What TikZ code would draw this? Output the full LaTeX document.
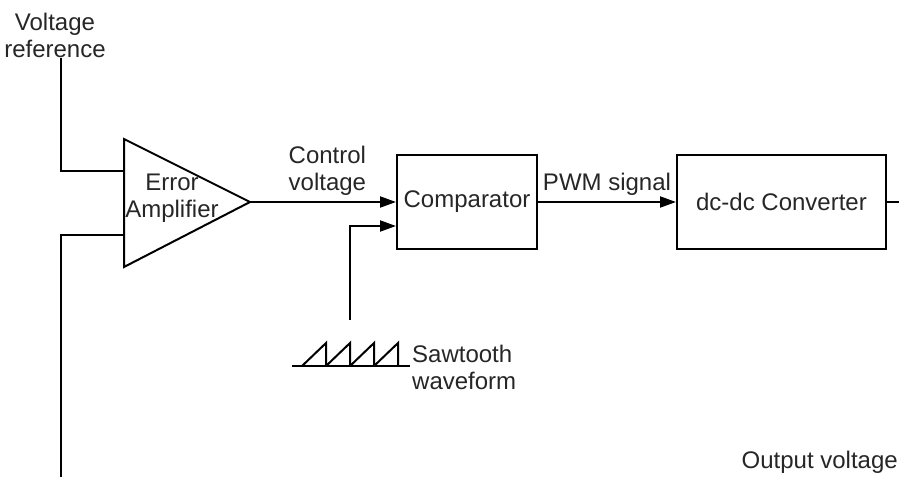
\documentclass[tikz,border=0pt]{standalone}
\usepackage{fontspec}
\setmainfont{Liberation Sans}
\usetikzlibrary{arrows.meta, positioning}

\begin{document}
\begin{tikzpicture}[x=1pt, y=-1pt,
  every node/.style={font=\fontsize{24}{27}\selectfont, text=black!85, inner sep=0pt},
  st/.style={draw, line width=2pt, minimum height=94pt},
  ln/.style={line width=2pt},
  a/.style={-{Triangle[length=16pt,width=11pt]}, line width=2pt},
  al/.style={align=center}]
\useasboundingbox (0,0) rectangle (899,477);
\clip (0,0) rectangle (899,477);
% error amplifier
\node[al] (vref) at (55,35) {Voltage\\reference};
\coordinate (ampt) at (124,139);
\coordinate (ampb) at (124,267);
\coordinate (ampo) at (250,202);
\coordinate (ampp) at (124,171);
\coordinate (ampn) at (124,235);
\draw[ln, line join=miter] (ampt) -- (ampo) -- (ampb) -- cycle;
\node[al] (amp) at (172,198) {Error\\Amplifier};
\draw[ln] ([xshift=6pt]vref.south) |- (ampp);
\coordinate (fb) at (61,477);
\draw[ln] (fb) |- (ampn);
% blocks
\node[st, minimum width=140pt] (cmp) at (467,202) {Comparator};
\node[st, minimum width=209pt] (conv) at (781.5,202) {dc-dc Converter};
\draw[a] (ampo) -- node[al, above=6pt, pos=0.53]{Control\\voltage} (cmp.west);
\draw[a] (cmp) -- node[above=6pt]{PWM signal} (conv);
\coordinate (out) at (899,202);
\draw[ln] (conv) -- (out);
% sawtooth
\coordinate (saw) at (350,320);
\draw[a] (saw) |- ([yshift=-24pt]cmp.west);
\draw[ln] (292,366) -- (410,366);
\foreach \i in {0,...,3}
  \draw[ln, line join=miter] ({302+24*\i},366) -- ({326+24*\i},343) -- ({326+24*\i},366);
\node[align=left, anchor=west] (sawl) at (412,367) {Sawtooth\\waveform};
\node[anchor=base east] (vout) at (898,468) {Output voltage};
\end{tikzpicture}
\end{document}
